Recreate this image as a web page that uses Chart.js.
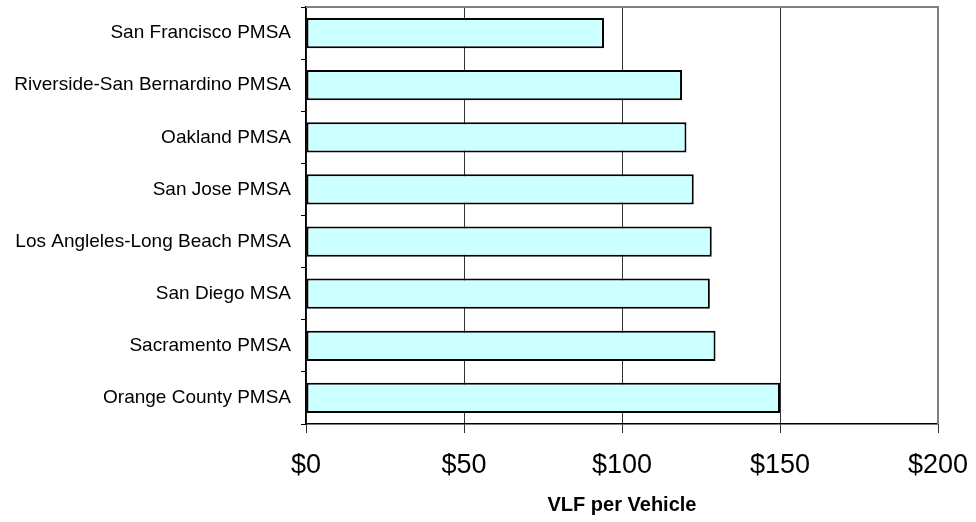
<!DOCTYPE html>
<html>
<head>
<meta charset="utf-8">
<script src="https://cdn.jsdelivr.net/npm/chart.js@4"></script>
<style>
  html, body { margin: 0; padding: 0; background: #fff; }
  #wrap { width: 976px; height: 522px; }
</style>
</head>
<body>
<div id="wrap"><canvas id="c" width="976" height="522"></canvas></div>
<script>
const categories = [
  "San Francisco PMSA",
  "Riverside-San Bernardino PMSA",
  "Oakland PMSA",
  "San Jose PMSA",
  "Los Angleles-Long Beach PMSA",
  "San Diego MSA",
  "Sacramento PMSA",
  "Orange County PMSA"
];
const vlfPerVehicle = [94.3, 119, 120.4, 122.7, 128.4, 127.8, 129.6, 150];
const xTickValues = [0, 50, 100, 150, 200];
const xAxisTitle = "VLF per Vehicle";

const FONT = "'Liberation Sans', Arial, sans-serif";

const frame = {
  id: 'frame',
  afterDatasetsDraw(chart) {
    const {ctx, chartArea: a} = chart;
    ctx.save();
    ctx.strokeStyle = '#808080';
    ctx.lineWidth = 2;
    ctx.beginPath();
    ctx.moveTo(a.left, a.top);
    ctx.lineTo(a.right, a.top);
    ctx.lineTo(a.right, a.bottom);
    ctx.stroke();
    ctx.restore();
  }
};

new Chart(document.getElementById('c'), {
  type: 'bar',
  data: {
    labels: categories,
    datasets: [{
      data: vlfPerVehicle,
      backgroundColor: '#CCFFFF',
      borderColor: '#000000',
      borderWidth: 2,
      borderSkipped: false,
      barPercentage: 0.58,
      categoryPercentage: 1.0
    }]
  },
  options: {
    indexAxis: 'y',
    responsive: false,
    animation: false,
    devicePixelRatio: 1,
    layout: { padding: { top: 7, right: 38, left: 0, bottom: 0 } },
    plugins: { legend: { display: false }, tooltip: { enabled: false } },
    scales: {
      x: {
        min: 0, max: 200,
        afterBuildTicks(scale) { scale.ticks = xTickValues.map(v => ({ value: v })); },
        afterFit(scale) { scale.height = 98; scale.paddingLeft = 0; scale.paddingRight = 0; },
        grid: { color: '#333333', lineWidth: 1, tickLength: 9, drawTicks: true },
        border: { color: '#000000', width: 1.5 },
        ticks: {
          color: '#000', padding: 16,
          font: { family: FONT, size: 27 },
          callback: v => '$' + v
        },
        title: {
          display: true, text: xAxisTitle, color: '#000',
          font: { family: FONT, size: 20, weight: 'bold' },
          padding: { top: 0, bottom: 5 }
        }
      },
      y: {
        afterFit(scale) { scale.width = 306; scale.paddingTop = 0; scale.paddingBottom = 0; },
        grid: { drawOnChartArea: false, tickLength: 5, color: '#000', offset: true },
        border: { color: '#000000', width: 1.5 },
        ticks: {
          color: '#000', padding: 10,
          font: { family: FONT, size: 19 }
        }
      }
    }
  },
  plugins: [frame]
});
</script>
</body>
</html>
